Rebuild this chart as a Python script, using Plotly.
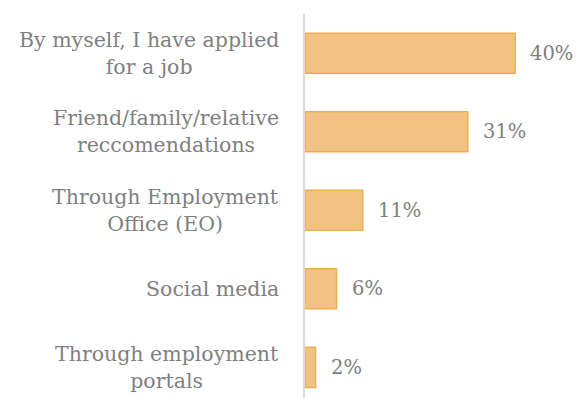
import plotly.graph_objects as go

categories = [
    "By myself, I have applied<br>for a job",
    "Friend/family/relative<br>reccomendations",
    "Through Employment<br>Office (EO)",
    "Social media",
    "Through employment<br>portals",
]
shares = [40, 31, 11, 6, 2]

positions = list(range(len(categories)))
FONT = "DejaVu Serif"
GREY = "#7f7f7f"

fig = go.Figure(
    go.Bar(
        x=shares,
        y=positions,
        orientation="h",
        width=0.51,
        marker=dict(color="#f2c283", line=dict(color="#edae52", width=1.5)),
        hoverinfo="skip",
    )
)

annotations = []
for pos, label, val in zip(positions, categories, shares):
    annotations.append(dict(
        x=0, y=pos, xref="x", yref="y", text=label, showarrow=False,
        xanchor="right", yanchor="middle", align="center", xshift=-24,
        font=dict(family=FONT, size=20.5, color=GREY),
    ))
    annotations.append(dict(
        x=val, y=pos, xref="x", yref="y", text=f"{val}%", showarrow=False,
        xanchor="left", yanchor="middle", xshift=13,
        font=dict(family=FONT, size=19.5, color=GREY),
    ))

fig.update_layout(
    width=576, height=398,
    margin=dict(l=305, r=0, t=14, b=0),
    paper_bgcolor="white", plot_bgcolor="white",
    showlegend=False,
    annotations=annotations,
    xaxis=dict(range=[0, 51.6], visible=False, fixedrange=True),
    yaxis=dict(
        range=[4.39, -0.5], showticklabels=False, showgrid=False, zeroline=False,
        showline=True, linecolor="#d9d9d9", linewidth=2, ticks="", fixedrange=True,
    ),
)

fig.write_html("out.html")
